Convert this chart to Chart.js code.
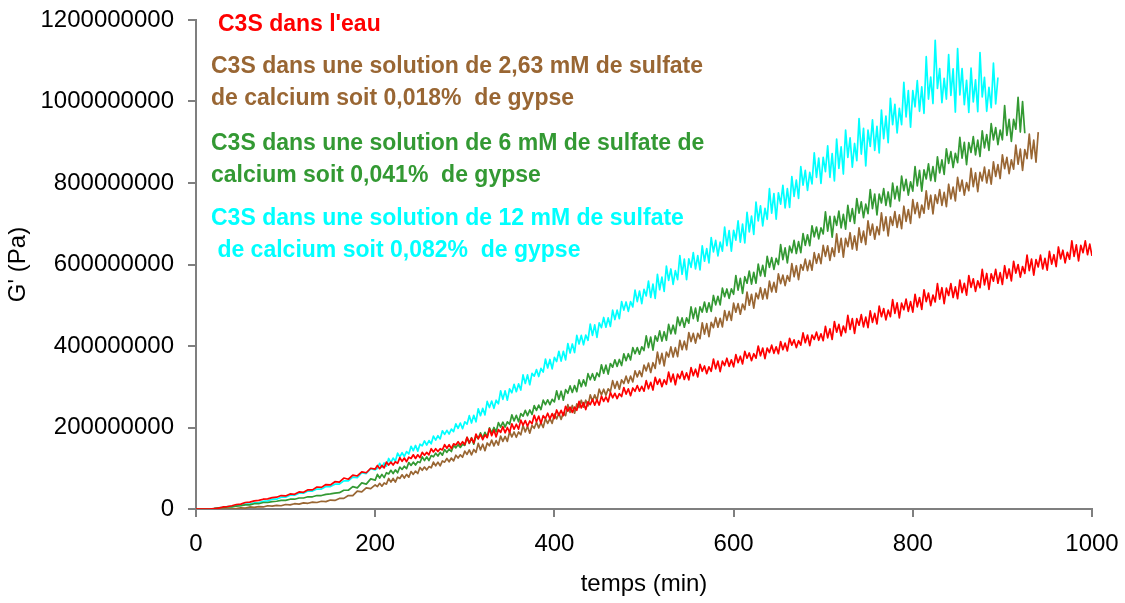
<!DOCTYPE html>
<html><head><meta charset="utf-8">
<script src="https://cdn.jsdelivr.net/npm/chart.js@4.4.0/dist/chart.umd.min.js"></script>
<style>html,body{margin:0;padding:0;background:#fff;overflow:hidden;}#wrap{width:1125px;height:603px;}</style>
</head><body><div id="wrap"><canvas id="c" width="1125" height="603"></canvas></div>
<script>
// temps (min)
const temps = [0,5,10,15,20,25,30,35,40,45,50,55,60,65,70,75,80,85,90,95,100,105,110,115,120,125,130,135,140,145,150,155,160,165,170,175,180,185,190,195,200,
202.5,205,207.5,210,212.5,215,217.5,220,222.5,225,227.5,230,232.5,235,237.5,240,242.5,245,247.5,250,
252.5,255,257.5,260,262.5,265,267.5,270,272.5,275,277.5,280,282.5,285,287.5,290,292.5,295,297.5,300,
302.5,305,307.5,310,312.5,315,317.5,320,322.5,325,327.5,330,332.5,335,337.5,340,342.5,345,347.5,350,
352.5,355,357.5,360,362.5,365,367.5,370,372.5,375,377.5,380,382.5,385,387.5,390,392.5,395,397.5,400,
402.5,405,407.5,410,412.5,415,417.5,420,422.5,425,427.5,430,432.5,435,437.5,440,442.5,445,447.5,450,
452.5,455,457.5,460,462.5,465,467.5,470,472.5,475,477.5,480,482.5,485,487.5,490,492.5,495,497.5,500,
502.5,505,507.5,510,512.5,515,517.5,520,522.5,525,527.5,530,532.5,535,537.5,540,542.5,545,547.5,550,
552.5,555,557.5,560,562.5,565,567.5,570,572.5,575,577.5,580,582.5,585,587.5,590,592.5,595,597.5,600,
602.5,605,607.5,610,612.5,615,617.5,620,622.5,625,627.5,630,632.5,635,637.5,640,642.5,645,647.5,650,
652.5,655,657.5,660,662.5,665,667.5,670,672.5,675,677.5,680,682.5,685,687.5,690,692.5,695,697.5,700,
702.5,705,707.5,710,712.5,715,717.5,720,722.5,725,727.5,730,732.5,735,737.5,740,742.5,745,747.5,750,
752.5,755,757.5,760,762.5,765,767.5,770,772.5,775,777.5,780,782.5,785,787.5,790,792.5,795,797.5,800,
802.5,805,807.5,810,812.5,815,817.5,820,822.5,825,827.5,830,832.5,835,837.5,840,842.5,845,847.5,850,
852.5,855,857.5,860,862.5,865,867.5,870,872.5,875,877.5,880,882.5,885,887.5,890,892.5,895,897.5,900,
902.5,905,907.5,910,912.5,915,917.5,920,922.5,925,927.5,930,932.5,935,937.5,940,942.5,945,947.5,950,
952.5,955,957.5,960,962.5,965,967.5,970,972.5,975,977.5,980,982.5,985,987.5,990,992.5,995,997.5,1000];

// G' en MPa (x 1e6 Pa)
const eau = [0,0,0,0,1,2,5,6,8,11,12,16,17,20,21,24,25,28,29,33,32,37,36,42,41,47,47,54,53,60,59,67,66,76,73,83,81,91,89,100,98,
107,99,107,101,115,108,115,108,116,112,126,117,125,116,127,124,133,124,133,126,
139,132,139,133,148,140,148,141,148,145,158,149,158,148,160,157,165,157,165,158,
176,162,174,162,184,172,183,170,182,175,197,180,194,177,195,188,202,187,200,188,
209,196,208,196,218,206,217,203,216,209,230,214,228,210,229,222,235,221,234,222,
243,230,242,229,252,240,250,237,250,242,264,248,261,244,263,256,269,255,268,255,
277,264,275,263,286,273,284,271,283,276,298,282,295,278,297,289,303,289,301,289,
315,295,311,292,323,306,319,300,317,306,336,312,331,305,331,320,338,318,334,317,
347,327,343,324,355,338,351,332,349,338,368,344,363,337,363,352,370,350,366,349,
379,359,375,356,387,370,383,364,381,370,400,376,395,369,395,384,402,382,398,381,
411,391,407,388,419,402,415,396,413,402,432,408,427,401,427,416,434,414,430,413,
448,420,442,416,460,434,453,425,449,433,475,441,467,431,467,451,477,447,471,445,
486,458,480,454,498,472,492,464,488,472,514,480,506,469,505,489,515,485,509,483,
527,496,519,490,538,509,530,499,525,508,553,515,543,504,542,524,553,519,545,516,
562,531,554,525,573,544,565,534,560,543,588,550,578,539,577,559,588,554,580,551,
597,566,589,560,608,579,600,569,595,578,623,585,613,574,612,594,623,589,615,586,
632,601,624,595,643,614,635,604,630,613,658,620,648,609,647,629,658,624,650,621];

const sulfate263 = [0,0,0,0,0,0,0,0,0,1,3,2,5,4,6,5,8,7,9,8,11,10,13,12,15,14,17,16,19,18,22,21,26,26,33,33,44,42,52,50,59,
55,63,56,64,61,75,66,75,66,78,75,84,76,85,78,92,85,93,87,102,
95,103,96,104,101,115,106,115,106,118,115,124,116,125,118,132,125,133,127,142,
134,145,133,146,139,161,145,159,143,162,155,169,155,168,157,179,166,178,166,190,
177,189,176,189,182,205,189,203,186,205,198,213,199,212,200,222,210,222,210,233,
221,235,220,236,229,256,237,254,235,258,249,267,250,267,253,280,265,280,266,294,
280,294,279,295,288,315,296,313,294,317,308,326,309,326,312,339,324,339,325,353,
339,358,335,359,345,385,356,382,351,385,373,398,373,396,374,414,391,412,391,433,
411,431,407,431,418,457,429,455,423,458,445,470,446,468,447,487,463,485,463,505,
483,504,478,503,489,532,500,527,493,530,516,543,515,540,516,559,533,556,532,577,
553,574,548,573,559,602,570,597,563,600,586,613,585,610,586,629,603,626,602,647,
620,646,610,641,620,675,630,664,618,664,644,678,638,670,635,690,654,682,649,707,
672,699,662,693,673,727,683,717,670,717,696,730,691,722,688,743,706,735,701,759,
725,752,715,746,726,781,736,770,724,771,750,784,745,777,742,797,761,790,756,814,
780,807,770,801,781,836,791,825,779,826,805,839,800,832,797,852,816,845,811,869,
835,863,823,857,834,893,846,883,831,882,860,920,860,905,851,925];

const sulfate6 = [0,0,0,0,1,3,3,5,5,7,8,10,10,13,13,16,16,18,19,21,21,24,24,27,27,30,30,33,33,36,37,39,40,46,46,55,52,64,61,74,71,
85,76,85,77,89,86,95,87,96,89,103,97,105,99,114,107,115,108,116,114,
128,119,128,119,131,128,137,130,139,132,146,139,147,141,156,150,158,151,159,156,
176,161,175,159,179,173,187,174,188,177,199,187,200,189,212,201,213,201,214,208,
231,216,230,214,234,228,242,229,243,232,254,242,255,244,267,256,268,256,269,263,
290,269,289,267,293,284,302,286,303,288,317,300,317,302,332,317,332,316,334,325,
354,333,353,331,357,348,366,350,367,352,381,364,381,366,396,381,396,380,398,389,
425,396,422,390,425,412,437,412,435,414,453,430,451,430,471,450,469,446,469,456,
496,467,493,461,496,483,508,483,506,485,524,501,522,501,542,521,540,517,540,527,
573,537,566,529,570,554,584,552,581,554,601,572,598,571,620,593,617,588,615,600,
649,612,641,604,645,629,659,627,656,629,676,647,673,646,695,668,692,663,690,675,
729,682,718,667,718,696,731,690,723,687,745,706,737,701,762,726,754,715,748,725,
784,737,773,722,773,751,786,745,778,742,800,761,792,756,817,781,809,770,803,780,
840,793,831,780,832,810,847,806,840,804,864,825,857,821,884,848,877,838,873,850,
912,861,900,845,899,875,914,869,905,865,928,886,919,880,946,906,936,894,930,906,
990,917,956,902,956,932,1010,925,1000,922];

const sulfate12 = [0,0,0,0,1,3,4,6,6,9,9,12,12,15,16,19,20,24,24,29,29,34,34,39,39,44,44,49,49,55,55,61,61,69,69,78,77,89,87,99,96,
100,112,102,113,105,124,114,125,117,137,128,138,129,141,135,154,143,156,142,159,
155,167,157,168,160,179,169,180,172,192,183,193,184,196,190,209,198,211,197,214,
208,229,211,230,214,246,229,247,231,264,249,265,247,267,258,290,269,290,267,295,
285,306,288,307,292,329,308,329,305,333,326,342,325,345,336,368,346,367,344,372,
362,387,363,387,366,406,383,405,384,426,405,426,403,427,414,454,426,452,421,457,
445,470,446,469,448,488,465,488,467,509,488,508,485,509,496,537,509,535,504,539,
523,559,519,552,517,576,538,569,534,596,561,589,551,585,563,622,576,613,563,614,
593,629,589,622,587,646,608,639,604,666,631,659,621,655,633,692,646,683,633,684,
660,707,655,699,653,728,680,719,674,753,707,744,695,738,711,786,726,774,711,776,
748,794,739,786,740,816,767,807,762,840,795,831,782,826,798,874,814,861,799,863,
828,891,814,872,805,908,836,889,822,930,863,911,839,897,855,958,871,934,842,930,
890,955,880,939,874,979,909,964,899,1008,943,993,923,983,943,1047,962,1027,937,1027,
987,1051,976,1036,971,1110,1006,1060,995,1150,1032,1081,997,1057,1006,1115,1015,1080,974,1130,
1016,1081,992,1052,973,1082,999,1053,975,1120,1011,1059,976,1035,985,1094,994,1059];

const nomsSeries = ["C3S dans l'eau",
  "C3S dans une solution de 2,63 mM de sulfate de calcium soit 0,018% de gypse",
  "C3S dans une solution de 6 mM de sulfate de calcium soit 0,041% de gypse",
  "C3S dans une solution de 12 mM de sulfate de calcium soit 0,082% de gypse"];
const lignesLegende = [
  ["C3S dans l'eau"],
  ["C3S dans une solution de 2,63 mM de sulfate", "de calcium soit 0,018%  de gypse"],
  ["C3S dans une solution de 6 mM de sulfate de", "calcium soit 0,041%  de gypse"],
  ["C3S dans une solution de 12 mM de sulfate", " de calcium soit 0,082%  de gypse"]
];
const valeurs = [eau, sulfate263, sulfate6, sulfate12];
const couleurs = ['#FF0000', '#996633', '#339933', '#00FFFF'];
const xTicks = [0, 200, 400, 600, 800, 1000];
const yTicks = [0, 200000000, 400000000, 600000000, 800000000, 1000000000, 1200000000];
const UNITE = 1e6;

const FONT = '"Liberation Sans", Arial, Helvetica, sans-serif';

const legendePlugin = {
  id: 'legendeTexte',
  afterDraw(chart) {
    const ctx = chart.ctx;
    const pos = [
      [[218, 31]],
      [[211, 73], [211, 105]],
      [[211, 150], [211, 182]],
      [[211, 225], [211, 257]]
    ];
    ctx.save();
    ctx.font = 'bold 23px ' + FONT;
    ctx.textAlign = 'left';
    ctx.textBaseline = 'alphabetic';
    lignesLegende.forEach((lignes, i) => {
      ctx.fillStyle = couleurs[i];
      lignes.forEach((t, j) => ctx.fillText(t, pos[i][j][0], pos[i][j][1]));
    });
    ctx.restore();
  }
};

const datasets = valeurs.map((serie, i) => ({
  label: nomsSeries[i],
  data: serie.map((v, k) => ({x: temps[k], y: v * UNITE})),
  borderColor: couleurs[i],
  backgroundColor: couleurs[i],
  borderWidth: 1.7,
  borderJoinStyle: 'round',
  pointRadius: 0,
  tension: 0,
  fill: false
}));

new Chart(document.getElementById('c'), {
  type: 'line',
  data: { datasets },
  plugins: [legendePlugin],
  options: {
    responsive: false,
    animation: false,
    devicePixelRatio: 1,
    layout: { padding: { left: 0, right: 33, top: 20, bottom: 0 } },
    plugins: { legend: { display: false }, tooltip: { enabled: false } },
    scales: {
      x: {
        type: 'linear', min: 0, max: 1000,
        afterFit: s => { s.height = 94; s.paddingLeft = 0; s.paddingRight = 0; },
        afterBuildTicks: s => { s.ticks = xTicks.map(v => ({value: v})); },
        grid: { drawOnChartArea: false, drawTicks: true, tickLength: 8, color: '#7f7f7f', lineWidth: 2 },
        border: { color: '#7f7f7f', width: 2 },
        ticks: { color: '#000', font: { family: FONT, size: 24 }, padding: 13, maxRotation: 0, autoSkip: false,
                 callback: v => String(v) },
        title: { display: true, text: 'temps (min)', color: '#000', font: { family: FONT, size: 24 }, padding: { top: 0, bottom: 4 } }
      },
      y: {
        type: 'linear', min: 0, max: 1200000000,
        afterFit: s => { s.width = 196; s.paddingTop = 0; s.paddingBottom = 0; },
        afterBuildTicks: s => { s.ticks = yTicks.map(v => ({value: v})); },
        grid: { drawOnChartArea: false, drawTicks: true, tickLength: 8, color: '#7f7f7f', lineWidth: 2 },
        border: { color: '#7f7f7f', width: 2 },
        ticks: { color: '#000', font: { family: FONT, size: 24 }, padding: 14, autoSkip: false,
                 callback: v => String(v) },
        title: { display: true, text: "G' (Pa)", color: '#000', font: { family: FONT, size: 24 }, padding: { top: 4, bottom: 0 } }
      }
    }
  }
});
</script></body></html>
